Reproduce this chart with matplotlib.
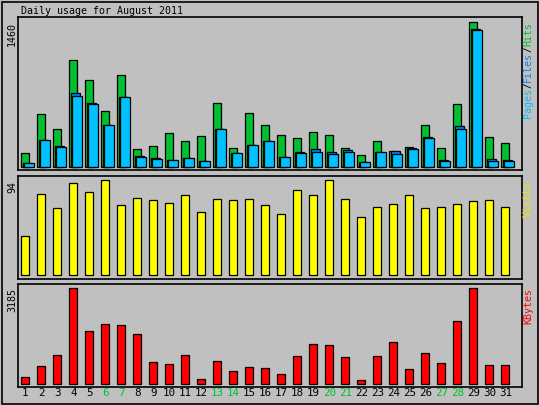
import matplotlib
matplotlib.use("Agg")
import matplotlib.pyplot as plt
from matplotlib.patches import Rectangle
import numpy as np

days = list(range(1, 32))
hits = [141,534,383,1077,876,564,926,181,211,342,262,312,644,191,544,423,322,292,352,322,191,121,262,161,201,423,191,634,1460,302,242]
files = [40,272,211,745,644,423,705,111,91,70,91,60,383,141,221,262,101,151,181,151,171,50,151,161,191,302,70,413,1389,81,70]
pages = [40,272,201,715,634,423,705,101,81,70,91,60,383,141,221,262,101,141,151,131,151,50,151,131,181,292,60,383,1379,60,60]
visits = [39,80,67,91,82,94,70,77,75,72,79,63,76,75,76,70,61,84,79,94,76,58,68,71,79,67,68,71,74,75,68]
kbytes = [212,579,947,3185,1748,1982,1949,1648,713,646,947,145,746,412,546,512,312,913,1314,1281,880,111,913,1381,479,1013,679,2083,3185,612,612]
weekends = [6,7,13,14,20,21,27,28]

W, H = 539, 405
BG = '#c0c0c0'
fig = plt.figure(figsize=(W/100, H/100), dpi=100, facecolor=BG)
MONO = 'DejaVu Sans Mono'
FS = 7.2

def px_axes(x0, y0, x1, y1):
    return fig.add_axes([x0/W, 1-y1/H, (x1-x0)/W, (y1-y0)/H], facecolor=BG)

def style(ax, ylim):
    ax.set_xlim(0.525, 32.025)
    ax.set_ylim(*ylim)
    ax.set_xticks([]); ax.set_yticks([])
    for s in ax.spines.values():
        s.set_linewidth(1.2); s.set_color('black')

d = np.array(days)
ax1 = px_axes(17.7, 17.3, 521.7, 170)
ax1.bar(d, hits, width=0.5, color='#00c030', edgecolor='black', linewidth=0.9)
ax1.bar(d+0.1375, files, width=0.5625, color='#0080ff', edgecolor='black', linewidth=0.9)
ax1.bar(d+0.23, pages, width=0.59, color='#00c0ff', edgecolor='black', linewidth=0.9)
style(ax1, (-27, 1510))

ax2 = px_axes(17.7, 175.7, 521.7, 279)
ax2.bar(d, visits, width=0.5, color='#ffff00', edgecolor='black', linewidth=0.9)
style(ax2, (-3.7, 98.6))

ax3 = px_axes(17.7, 284, 521.7, 386.7)
ax3.bar(d, kbytes, width=0.5, color='#ff0000', edgecolor='black', linewidth=0.9)
style(ax3, (-100, 3329))

def ftext(x, y, s, size=FS, **kw):
    fig.text(x/W, 1-y/H, s, family=MONO, fontsize=size, **kw)

ftext(21, 11, 'Daily usage for August 2011', ha='left', va='center')
ftext(12, 22, str(max(hits)), rotation=90, ha='center', va='top')
ftext(12, 180.5, str(max(visits)), rotation=90, ha='center', va='top')
ftext(12, 288.5, str(max(kbytes)), rotation=90, ha='center', va='top')

# right labels (read bottom-up)
y = 22
for s, c in [('Hits', '#00c030'), ('/', 'black'), ('Files', '#0080ff'), ('/', 'black'), ('Pages', '#00c0ff')]:
    ftext(528, y, s, rotation=90, ha='center', va='top', color=c)
    y += 6*len(s)
ftext(528, 181, 'Visits', rotation=90, ha='center', va='top', color='#e8e800')
ftext(528, 288, 'KBytes', rotation=90, ha='center', va='top', color='#ff0000')

for i in days:
    xc = 25.3 + 16*(i-1)
    ftext(xc, 393, str(i), size=7.8, ha='center', va='center',
          color='#00c030' if i in weekends else 'black')

fig.patches.append(Rectangle((1.5/W, 1.5/H), (W-3)/W, (H-3)/H, transform=fig.transFigure,
                             fill=False, edgecolor='black', linewidth=1.2))
fig.savefig('out.png', dpi=100, facecolor=BG)
